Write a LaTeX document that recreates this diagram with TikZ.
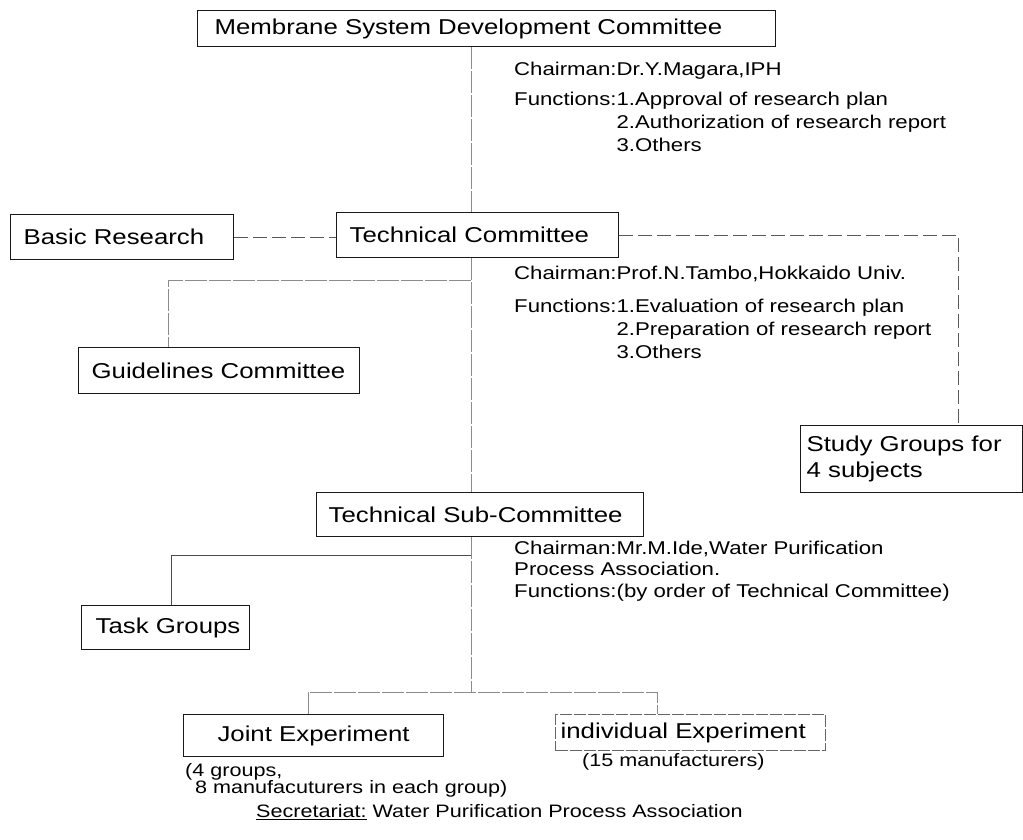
\documentclass[tikz,border=0pt]{standalone}
\usepackage{fontspec}
\setmainfont{Liberation Sans}[FakeStretch=1.2]
\newcommand\bxfont{\fontsize{21.5}{26}\selectfont}
\newcommand\ntfont{\fontsize{18.5}{23}\selectfont}
\begin{document}
\begin{tikzpicture}[x=1pt,y=-1pt,
  box/.style={draw=black!90, line width=1.2pt, anchor=north west, inner ysep=0pt, font=\bxfont, align=left},
  cbox/.style={box, align=center},
  note/.style={inner sep=0pt, font=\ntfont, align=left},
  dashlink/.style={draw=black!65, line width=0.8pt, dash pattern=on 14pt off 5pt},
  greylink/.style={draw=black!45, line width=0.8pt, dash pattern=on 22pt off 2pt},
  solidlink/.style={draw=black!70, line width=0.8pt}]
\useasboundingbox (0,0) rectangle (1023,839);

% boxes
\node[box, text width=544pt, inner xsep=17pt, minimum height=36pt] (msdc) at (197,10) {\mbox{Membrane System Development Committee}};
\node[box, text width=197pt, inner xsep=13pt, minimum height=45pt] (basic) at (10,214) {\mbox{Basic Research}};
\node[box, text width=256pt, inner xsep=13pt, minimum height=45pt] (tc) at (336,212) {\mbox{Technical Committee}};
\node[box, text width=255pt, inner xsep=13pt, minimum height=46pt] (guide) at (78,347) {\mbox{Guidelines Committee}};
\node[box, text width=210pt, inner xsep=6pt, minimum height=67pt] (study) at (800,425) {Study Groups for\\4 subjects};
\node[box, text width=303pt, inner xsep=12pt, minimum height=44pt] (tsc) at (316,492) {\mbox{Technical Sub-Committee}};
\node[box, text width=140pt, inner xsep=14pt, minimum height=44pt] (task) at (81,605) {\mbox{Task Groups}};
\node[cbox, text width=240pt, inner xsep=10pt, minimum height=42pt] (joint) at (183,714) {\mbox{Joint Experiment}};
\node[box, draw=black!60, dash pattern=on 12pt off 2pt, text width=260pt, inner xsep=5pt, minimum height=36pt] (indiv) at (555,714) {\mbox{individual Experiment}};

% notes
\node[note, anchor=west] (magara) at (514,108.5) {\begin{tabular}{@{}l@{}l@{}}Chairman:&Dr.Y.Magara,IPH\\[7pt]Functions:&1.Approval of research plan\\&2.Authorization of research report\\&3.Others\end{tabular}};
\node[note, anchor=west] (tambo) at (514,314) {\begin{tabular}{@{}l@{}l@{}}Chairman:&Prof.N.Tambo,Hokkaido Univ.\\[10pt]Functions:&1.Evaluation of research plan\\&2.Preparation of research report\\&3.Others\end{tabular}};
\node[note, anchor=west, font=\fontsize{18.5}{21.5}\selectfont] (ide) at (514,571) {Chairman:Mr.M.Ide,Water Purification\\Process Association.\\Functions:(by order of Technical Committee)};
\node[note, anchor=west, font=\fontsize{18}{17}\selectfont] (jnote) at (185,780) {(4 groups,\\\hspace*{10pt}8 manufacuturers in each group)};
\node[note, anchor=west, font=\fontsize{18}{21}\selectfont] (inote) at (582,762) {(15 manufacturers)};
\node[note, anchor=west, font=\fontsize{18}{21}\selectfont] (secr) at (256,812) {\underline{Secretariat:} Water Purification Process Association};

% connector guide coordinates
\coordinate (trunk) at (471,0);
\coordinate (sgx) at (958,0);
\coordinate (gx) at (168,280);
\coordinate (tk) at (171,555);
\coordinate (e1) at (308,692);
\coordinate (e2) at (657,692);

% connectors
\draw[greylink] (msdc.south -| trunk) -- (tc.north -| trunk);
\draw[dashlink] (basic.east) -- (basic.east -| tc.west);
\draw[dashlink] (tc.east) -- (tc.east -| sgx) -- (study.north -| sgx);
\draw[greylink] (tc.south -| trunk) -- (tsc.north -| trunk);
\draw[greylink] (gx -| trunk) -- (gx) -- (gx |- guide.north);
\draw[greylink] (tsc.south -| trunk) -- (trunk |- e1);
\draw[solidlink] (tk -| trunk) -- (tk) -- (tk |- task.north);
\draw[greylink] (e1 |- joint.north) -- (e1) -- (e2) -- (e2 |- indiv.north);
\end{tikzpicture}
\end{document}
